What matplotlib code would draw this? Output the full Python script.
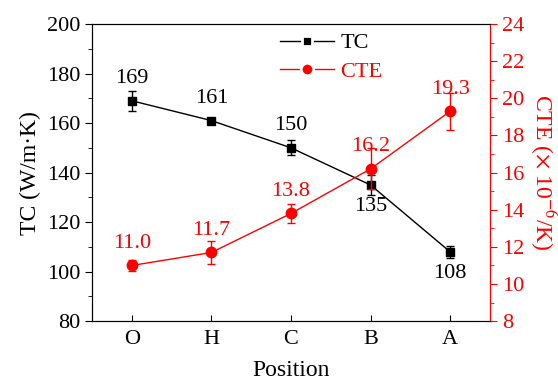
import matplotlib.pyplot as plt
from matplotlib.lines import Line2D
from matplotlib.ticker import MultipleLocator

plt.rcParams['font.family'] = ['Liberation Serif', 'DejaVu Serif']
plt.rcParams['mathtext.fontset'] = 'stix'

positions = ['O', 'H', 'C', 'B', 'A']
tc = [169, 161, 150, 135, 108]
tc_err = [4, 1.2, 3, 4, 2.5]
cte = [11.0, 11.7, 13.8, 16.2, 19.3]
cte_err = [0.3, 0.6, 0.5, 1.1, 1.0]
tc_labels = ['169', '161', '150', '135', '108']
cte_labels = ['11.0', '11.7', '13.8', '16.2', '19.3']

red = '#ff0000'
fs = 16
fig, ax = plt.subplots(figsize=(5.58, 3.87), dpi=100)
fig.subplots_adjust(left=0.165, right=0.878, top=0.938, bottom=0.17)
ax2 = ax.twinx()

x = range(len(positions))
ax.errorbar(x, tc, yerr=tc_err, color='black', marker='s', ms=5.5, lw=1,
            capsize=3, elinewidth=1)
ax2.errorbar(x, cte, yerr=cte_err, color=red, marker='o', ms=7.5, lw=1,
             capsize=3, elinewidth=1)

# value labels
for i, (v, s) in enumerate(zip(tc, tc_labels)):
    if i >= 3:
        ax.annotate(s, (i, v), xytext=(0, -9), textcoords='offset points',
                    ha='center', va='top', fontsize=fs)
    else:
        ax.annotate(s, (i, v), xytext=(0, 9), textcoords='offset points',
                    ha='center', va='bottom', fontsize=fs)
for i, (v, s) in enumerate(zip(cte, cte_labels)):
    ax2.annotate(s, (i, v), xytext=(0, 9), textcoords='offset points',
                 ha='center', va='bottom', fontsize=fs, color=red)

ax.set_xlim(-0.5, 4.5)
ax.set_ylim(80, 200)
ax2.set_ylim(8, 24)
ax.set_xticks(list(x))
ax.set_xticklabels(positions)
ax.yaxis.set_major_locator(MultipleLocator(20))
ax.yaxis.set_minor_locator(MultipleLocator(10))
ax2.yaxis.set_major_locator(MultipleLocator(2))
ax2.yaxis.set_minor_locator(MultipleLocator(1))

ax.tick_params(axis='x', direction='in', labelsize=fs, length=4, pad=6)
ax.tick_params(axis='y', which='both', direction='out', labelsize=fs)
ax.tick_params(axis='y', which='major', length=5)
ax.tick_params(axis='y', which='minor', length=3)
ax2.tick_params(axis='y', which='both', direction='out', labelsize=fs,
                colors=red)
ax2.tick_params(axis='y', which='major', length=5)
ax2.tick_params(axis='y', which='minor', length=3)
ax2.spines['right'].set_color(red)

ax.set_xlabel('Position', fontsize=17, labelpad=8)
ax.set_ylabel('TC (W/m·K)', fontsize=17)
ax2.set_ylabel(r'CTE ($\times$ 10$^{-6}$/K)', fontsize=17, color=red,
               rotation=270, va='center')
ax2.yaxis.set_label_coords(1.135, 0.5)

# legend handles: marker with white edge to leave a small gap in the line
h1 = Line2D([], [], color='black', lw=1, marker='s', ms=7.5,
            markerfacecolor='black', markeredgecolor='white', markeredgewidth=2)
h2 = Line2D([], [], color=red, lw=1, marker='o', ms=9,
            markerfacecolor=red, markeredgecolor='white', markeredgewidth=2)
leg = ax.legend([h1, h2], ['TC', 'CTE'], loc='upper left',
                bbox_to_anchor=(0.44, 1.015), frameon=False, fontsize=fs,
                handlelength=2.4, handletextpad=0.3, labelspacing=0.35,
                borderaxespad=0.2)
leg.get_texts()[1].set_color(red)

fig.savefig('out.png', dpi=100)
